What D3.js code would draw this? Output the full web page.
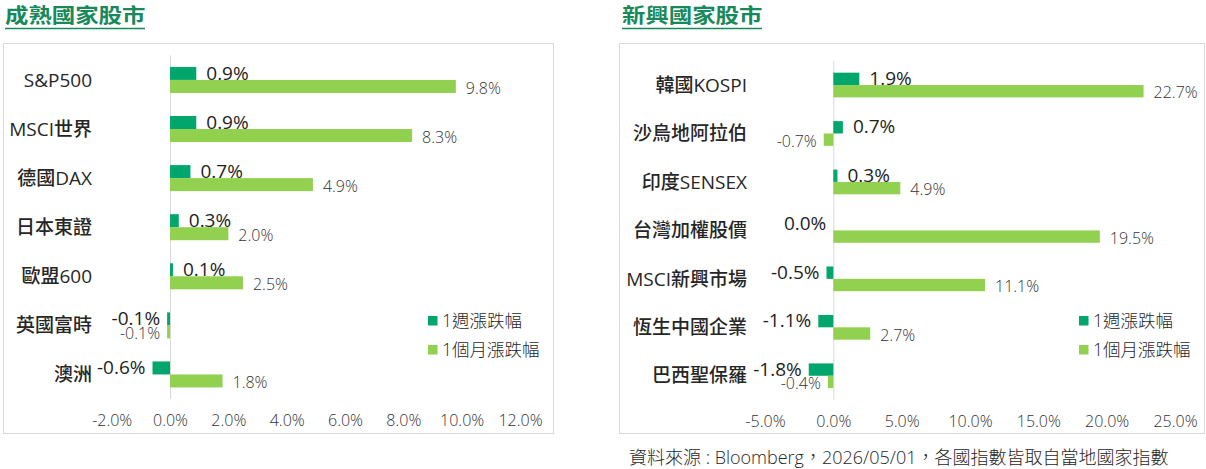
<!DOCTYPE html>
<html>
<head>
<meta charset="utf-8">
<script src="https://cdn.jsdelivr.net/npm/d3@7"></script>
<style>
  body { margin: 0; background: #fff; }
  svg { display: block; font-family: "Open Sans", "Noto Sans CJK TC", sans-serif; }
</style>
</head>
<body>
<div id="chart"></div>
<script>
// values (percent)
const devCats = ["S&P500", "MSCI世界", "德國DAX", "日本東證", "歐盟600", "英國富時", "澳洲"];
const devWeek = [0.9, 0.9, 0.7, 0.3, 0.1, -0.1, -0.6];
const devMonth = [9.8, 8.3, 4.9, 2.0, 2.5, -0.1, 1.8];
const devTicks = [-2, 0, 2, 4, 6, 8, 10, 12];

const emCats = ["韓國KOSPI", "沙烏地阿拉伯", "印度SENSEX", "台灣加權股價", "MSCI新興市場", "恆生中國企業", "巴西聖保羅"];
const emWeek = [1.9, 0.7, 0.3, 0.0, -0.5, -1.1, -1.8];
const emMonth = [22.7, -0.7, 4.9, 19.5, 11.1, 2.7, -0.4];
const emTicks = [-5, 0, 5, 10, 15, 20, 25];

const seriesNames = ["1週漲跌幅", "1個月漲跌幅"];

const width = 1206, height = 469;
const darkGreen = "#00a66b", lightGreen = "#92d050", titleGreen = "#17895a";

const svg = d3.select("#chart").append("svg")
    .attr("width", width)
    .attr("height", height);

function drawPanel(p) {
    const g = svg.append("g");

    // title + underline (title glyphs are a bit wide in the source)
    g.append("text")
        .attr("transform", `translate(${p.titleX},23) scale(1.17,1)`)
        .attr("font-size", 20)
        .attr("font-weight", 700)
        .attr("fill", titleGreen)
        .text(p.title);
    g.append("line")
        .attr("x1", p.titleX).attr("x2", p.titleX + 140)
        .attr("y1", 28.5).attr("y2", 28.5)
        .attr("stroke", titleGreen)
        .attr("stroke-width", 1.6);

    // frame
    g.append("rect")
        .attr("x", p.box[0] + 0.5).attr("y", 43.5)
        .attr("width", p.box[1] - p.box[0]).attr("height", 390)
        .attr("fill", "none")
        .attr("stroke", "#d9d9d9");

    const x = d3.scaleLinear().domain(d3.extent(p.ticks)).range(p.xRange);
    const y = d3.scaleBand().domain(p.cats).range(p.yRange)
        .paddingInner(p.pad).paddingOuter(p.pad / 2);
    const sub = d3.scaleBand().domain([0, 1]).range([0, y.bandwidth()]);

    const rows = p.cats.map((c, i) => ({ cat: c, vals: [p.week[i], p.month[i]] }));

    // zero line
    g.append("line")
        .attr("x1", x(0) + 0.5).attr("x2", x(0) + 0.5)
        .attr("y1", p.yRange[0]).attr("y2", p.yRange[1])
        .attr("stroke", "#d9d9d9");

    const row = g.selectAll(".row").data(rows).join("g")
        .attr("transform", d => `translate(0,${y(d.cat)})`);

    row.selectAll("rect")
        .data(d => d.vals)
        .join("rect")
        .attr("x", v => x(Math.min(0, v)))
        .attr("y", (v, j) => sub(j))
        .attr("width", v => Math.abs(x(v) - x(0)))
        .attr("height", sub.bandwidth())
        .attr("fill", (v, j) => j === 0 ? darkGreen : lightGreen);

    const onLeft = (v, j) => j === 0 ? v <= 0 : v < 0;

    row.selectAll(".val")
        .data(d => d.vals)
        .join("text")
        .attr("class", "val")
        .attr("x", (v, j) => onLeft(v, j) ? x(Math.min(0, v)) - 7 : x(v) + 10)
        .attr("y", (v, j) => sub(j) + sub.bandwidth() / 2 + (j === 0 ? -0.5 : 1.5))
        .attr("dy", "0.35em")
        .attr("text-anchor", (v, j) => onLeft(v, j) ? "end" : "start")
        .attr("font-size", (v, j) => j === 0 ? 19 : 16)
        .attr("font-weight", (v, j) => j === 0 ? 400 : 300)
        .attr("fill", (v, j) => j === 0 ? "#1e1e1e" : "#333")
        .text(v => v.toFixed(1) + "%");

    // category labels
    g.selectAll(".cat").data(p.cats).join("text")
        .attr("class", "cat")
        .attr("x", p.catX)
        .attr("y", d => y(d) + y.bandwidth() / 2)
        .attr("dy", "0.35em")
        .attr("text-anchor", "end")
        .attr("font-size", 19)
        .attr("font-weight", 500)
        .attr("fill", "#262626")
        .text(d => d);

    // x axis
    const ax = g.append("g")
        .attr("transform", `translate(0,${p.yRange[1]})`)
        .call(d3.axisBottom(x).tickValues(p.ticks).tickSize(0).tickPadding(16)
            .tickFormat(d => d.toFixed(1) + "%"));
    ax.select(".domain").remove();
    ax.selectAll("text")
        .attr("font-family", "Open Sans, Noto Sans CJK TC, sans-serif")
        .attr("font-size", 16)
        .attr("font-weight", 300)
        .attr("fill", "#333");

    // legend
    const lg = g.selectAll(".lg").data(seriesNames).join("g")
        .attr("class", "lg")
        .attr("transform", (d, i) => `translate(${p.legendX},${316 + i * 29})`);
    lg.append("rect")
        .attr("width", 9.5).attr("height", 9.5)
        .attr("fill", (d, i) => i === 0 ? darkGreen : lightGreen);
    lg.append("text")
        .attr("x", 14).attr("y", 5)
        .attr("dy", "0.35em")
        .attr("font-size", 17.5)
        .attr("font-weight", 300)
        .attr("fill", "#262626")
        .text(d => d);
}

drawPanel({
    title: "成熟國家股市", titleX: 5, box: [3, 553],
    cats: devCats, week: devWeek, month: devMonth, ticks: devTicks,
    xRange: [111.7, 520], yRange: [55.4, 399], pad: 0.47,
    catX: 92, legendX: 428
});

drawPanel({
    title: "新興國家股市", titleX: 622, box: [619, 1204],
    cats: emCats, week: emWeek, month: emMonth, ticks: emTicks,
    xRange: [765, 1175], yRange: [60.8, 400], pad: 0.49,
    catX: 747, legendX: 1079
});

svg.append("text")
    .attr("x", 629)
    .attr("y", 458)
    .attr("dy", "0.35em")
    .attr("font-size", 18)
    .attr("font-weight", 300)
    .attr("fill", "#262626")
    .text("資料來源 : Bloomberg，2026/05/01，各國指數皆取自當地國家指數");
</script>
</body>
</html>
